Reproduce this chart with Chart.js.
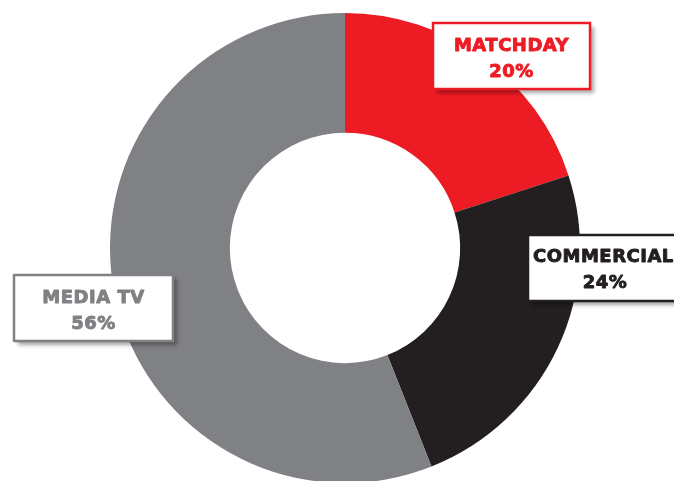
<!DOCTYPE html>
<html>
<head>
<meta charset="utf-8">
<script src="https://cdn.jsdelivr.net/npm/chart.js@4"></script>
<style>
  html, body { margin: 0; padding: 0; background: #fff; overflow: hidden; }
  #wrap { position: relative; width: 674px; height: 483px; }
</style>
</head>
<body>
<div id="wrap"><canvas id="chart"></canvas></div>
<script>
const labels = ['MATCHDAY', 'COMMERCIAL', 'MEDIA TV'];
const shares = [20, 24, 56];
const colors = ['#ed1c24', '#231f20', '#808184'];

// callout boxes: x, y, w, h for each slice label
const boxes = [
  { x: 433, y: 23, w: 157, h: 66 },
  { x: 528, y: 235, w: 165, h: 66 },
  { x: 14, y: 275, w: 159, h: 66 }
];

const calloutPlugin = {
  id: 'callouts',
  afterDatasetsDraw(chart) {
    const ctx = chart.ctx;
    ctx.save();
    boxes.forEach((b, i) => {
      ctx.save();
      ctx.shadowColor = 'rgba(0,0,0,0.35)';
      ctx.shadowOffsetX = 4;
      ctx.shadowOffsetY = 4;
      ctx.shadowBlur = 4;
      ctx.fillStyle = '#fff';
      ctx.fillRect(b.x, b.y, b.w, b.h);
      ctx.restore();
      ctx.lineWidth = 2.5;
      ctx.strokeStyle = colors[i];
      ctx.strokeRect(b.x, b.y, b.w, b.h);
      ctx.fillStyle = colors[i];
      ctx.lineWidth = 0.9;
      ctx.lineJoin = 'round';
      ctx.textBaseline = 'middle';
      ctx.font = 'bold 18px "DejaVu Sans", sans-serif';
      ctx.letterSpacing = '0.5px';
      const put = (t, x, y) => { ctx.fillText(t, x, y); ctx.strokeText(t, x, y); };
      if (i === 1) {
        ctx.textAlign = 'left';
        put(labels[i], 533, b.y + 22);
        ctx.textAlign = 'center';
        put(shares[i] + '%', 605, b.y + 48);
      } else {
        ctx.textAlign = 'center';
        const cx = b.x + b.w / 2;
        put(labels[i], cx, b.y + 23);
        put(shares[i] + '%', cx, b.y + 49);
      }
    });
    ctx.restore();
  }
};

new Chart(document.getElementById('chart'), {
  type: 'doughnut',
  data: {
    labels: labels,
    datasets: [{
      data: shares,
      backgroundColor: colors,
      borderWidth: 0
    }]
  },
  options: {
    responsive: true,
    maintainAspectRatio: false,
    animation: false,
    cutout: '49%',
    layout: { padding: { top: 13, left: 16, right: 0, bottom: 0 } },
    plugins: {
      legend: { display: false },
      tooltip: { enabled: false }
    }
  },
  plugins: [calloutPlugin]
});
</script>
</body>
</html>
